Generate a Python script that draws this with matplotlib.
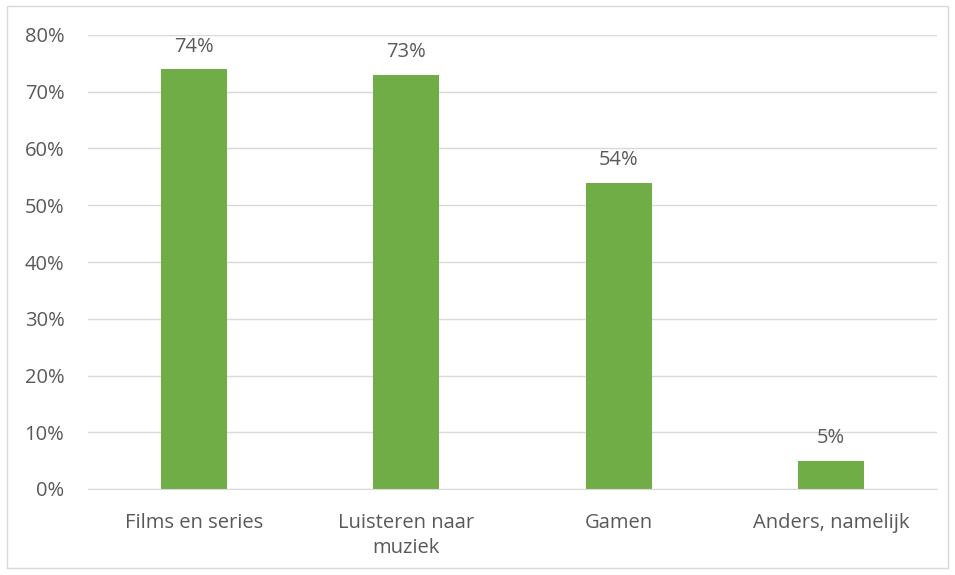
import numpy as np
import matplotlib.pyplot as plt
from matplotlib.patches import Rectangle
from matplotlib.ticker import PercentFormatter

categories = ["Films en series", "Luisteren naar\nmuziek", "Gamen", "Anders, namelijk"]
values = [74, 73, 54, 5]

plt.rcParams['font.family'] = ['Open Sans', 'DejaVu Sans']
text_col = "#595959"
bar_col = "#70AD47"
fs = 14.5

fig = plt.figure(figsize=(9.55, 5.75), dpi=100)
ax = fig.add_axes([88 / 955, 1 - 489 / 575, (937 - 88) / 955, (489 - 35) / 575])

x = np.arange(len(categories))
ax.bar(x, values, width=0.31, color=bar_col, zorder=3)

for xi, v in zip(x, values):
    ax.annotate(f"{v}%", (xi, v), xytext=(0, 9), textcoords="offset points",
                ha="center", va="bottom", fontsize=fs, color=text_col)

ax.set_xlim(-0.5, len(categories) - 0.5)
ax.set_ylim(0, 80)
ax.set_yticks(np.arange(0, 81, 10))
ax.yaxis.set_major_formatter(PercentFormatter(decimals=0))
ax.set_xticks(x)
ax.set_xticklabels(categories, fontsize=fs, color=text_col, linespacing=1.38)
ax.tick_params(axis="y", length=0, pad=17, labelsize=fs, labelcolor=text_col)
ax.tick_params(axis="x", length=0, pad=17)
ax.grid(axis="y", color="#D9D9D9", linewidth=1, zorder=0)
for s in ["top", "right", "left"]:
    ax.spines[s].set_visible(False)
ax.spines["bottom"].set_color("#D9D9D9")
ax.spines["bottom"].set_zorder(4)

fig.patches.append(Rectangle((7 / 955, 1 - 568 / 575), 941 / 955, 562 / 575,
                             transform=fig.transFigure, fill=False,
                             edgecolor="#D9D9D9", linewidth=1))

fig.savefig("out.png", dpi=100)
